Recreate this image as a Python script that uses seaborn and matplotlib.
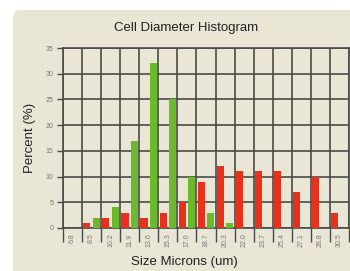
import numpy as np
import pandas as pd
import seaborn as sns
import matplotlib
matplotlib.use("Agg")
import matplotlib.pyplot as plt
from matplotlib.patches import FancyBboxPatch

# data
sizes = ["6.8", "8.5", "10.2", "11.9", "13.6", "15.3", "17.0", "18.7",
         "20.3", "22.0", "23.7", "25.4", "27.1", "28.8", "30.5"]
red_pct = [0, 1, 2, 3, 2, 3, 5, 9, 12, 11, 11, 11, 7, 10, 3]
green_pct = [0, 2, 4, 17, 32, 25, 10, 3, 1, 0, 0, 0, 0, 0, 0]

df = pd.DataFrame({
    "size": sizes * 2,
    "pct": red_pct + green_pct,
    "series": ["red"] * len(sizes) + ["green"] * len(sizes),
})

sns.set_style("white")
plt.rcParams["font.family"] = ["Liberation Sans", "DejaVu Sans"]

beige = "#e9e6d6"
grid_col = "#4a4a4a"

fig = plt.figure(figsize=(3.5, 2.71), dpi=100)
fig.patch.set_facecolor("white")
panel = FancyBboxPatch((0.13, -0.3), 4.0, 2.91,
                       boxstyle="round,pad=0,rounding_size=0.08",
                       transform=fig.dpi_scale_trans,
                       facecolor=beige, edgecolor="none", zorder=-5)
fig.patches.append(panel)

ax = fig.add_axes([0.18, 0.1587, 0.817, 0.664])
ax.set_zorder(2)
ax.set_facecolor(beige)

sns.barplot(data=df, x="size", y="pct", hue="series", order=sizes,
            hue_order=["red", "green"],
            palette={"red": "#e8301b", "green": "#6cba2c"},
            saturation=1, linewidth=0, edgecolor="none",
            width=1.0, gap=0.25, legend=False, ax=ax, zorder=3)

ax.set_xlim(-0.5, len(sizes) - 0.5)
ax.set_ylim(0, 35)
ax.set_yticks(np.arange(0, 36, 5))
ax.set_xticks(np.arange(-0.5, len(sizes)), minor=True)

ax.grid(False)
ax.xaxis.grid(True, which="minor", color=grid_col, lw=1.2, zorder=1)
ax.yaxis.grid(True, which="major", color=grid_col, lw=1.2, zorder=1)
ax.set_axisbelow(True)
for s in ax.spines.values():
    s.set_color(grid_col)
    s.set_linewidth(1.2)

ax.tick_params(axis="x", which="major", length=0, labelsize=5,
               labelcolor="#777777", rotation=90, pad=4)
ax.tick_params(axis="x", which="minor", bottom=True, length=10, width=1.0,
               color=grid_col, direction="out")
ax.tick_params(axis="y", which="major", left=True, length=4, width=1.0,
               color=grid_col, labelsize=5, labelcolor="#777777", pad=3)
ax.set_xlabel("")
ax.set_ylabel("")

fig.text(0.532, 0.897, "Cell Diameter Histogram", ha="center", va="center",
         fontsize=9.5, color="#222222")
fig.text(0.526, 0.035, "Size Microns (um)", ha="center", va="center",
         fontsize=9.5, color="#222222")
fig.text(0.086, 0.49, "Percent (%)", ha="center", va="center",
         rotation=90, fontsize=9.5, color="#222222")

fig.savefig("out.png", dpi=100, facecolor=fig.get_facecolor())
